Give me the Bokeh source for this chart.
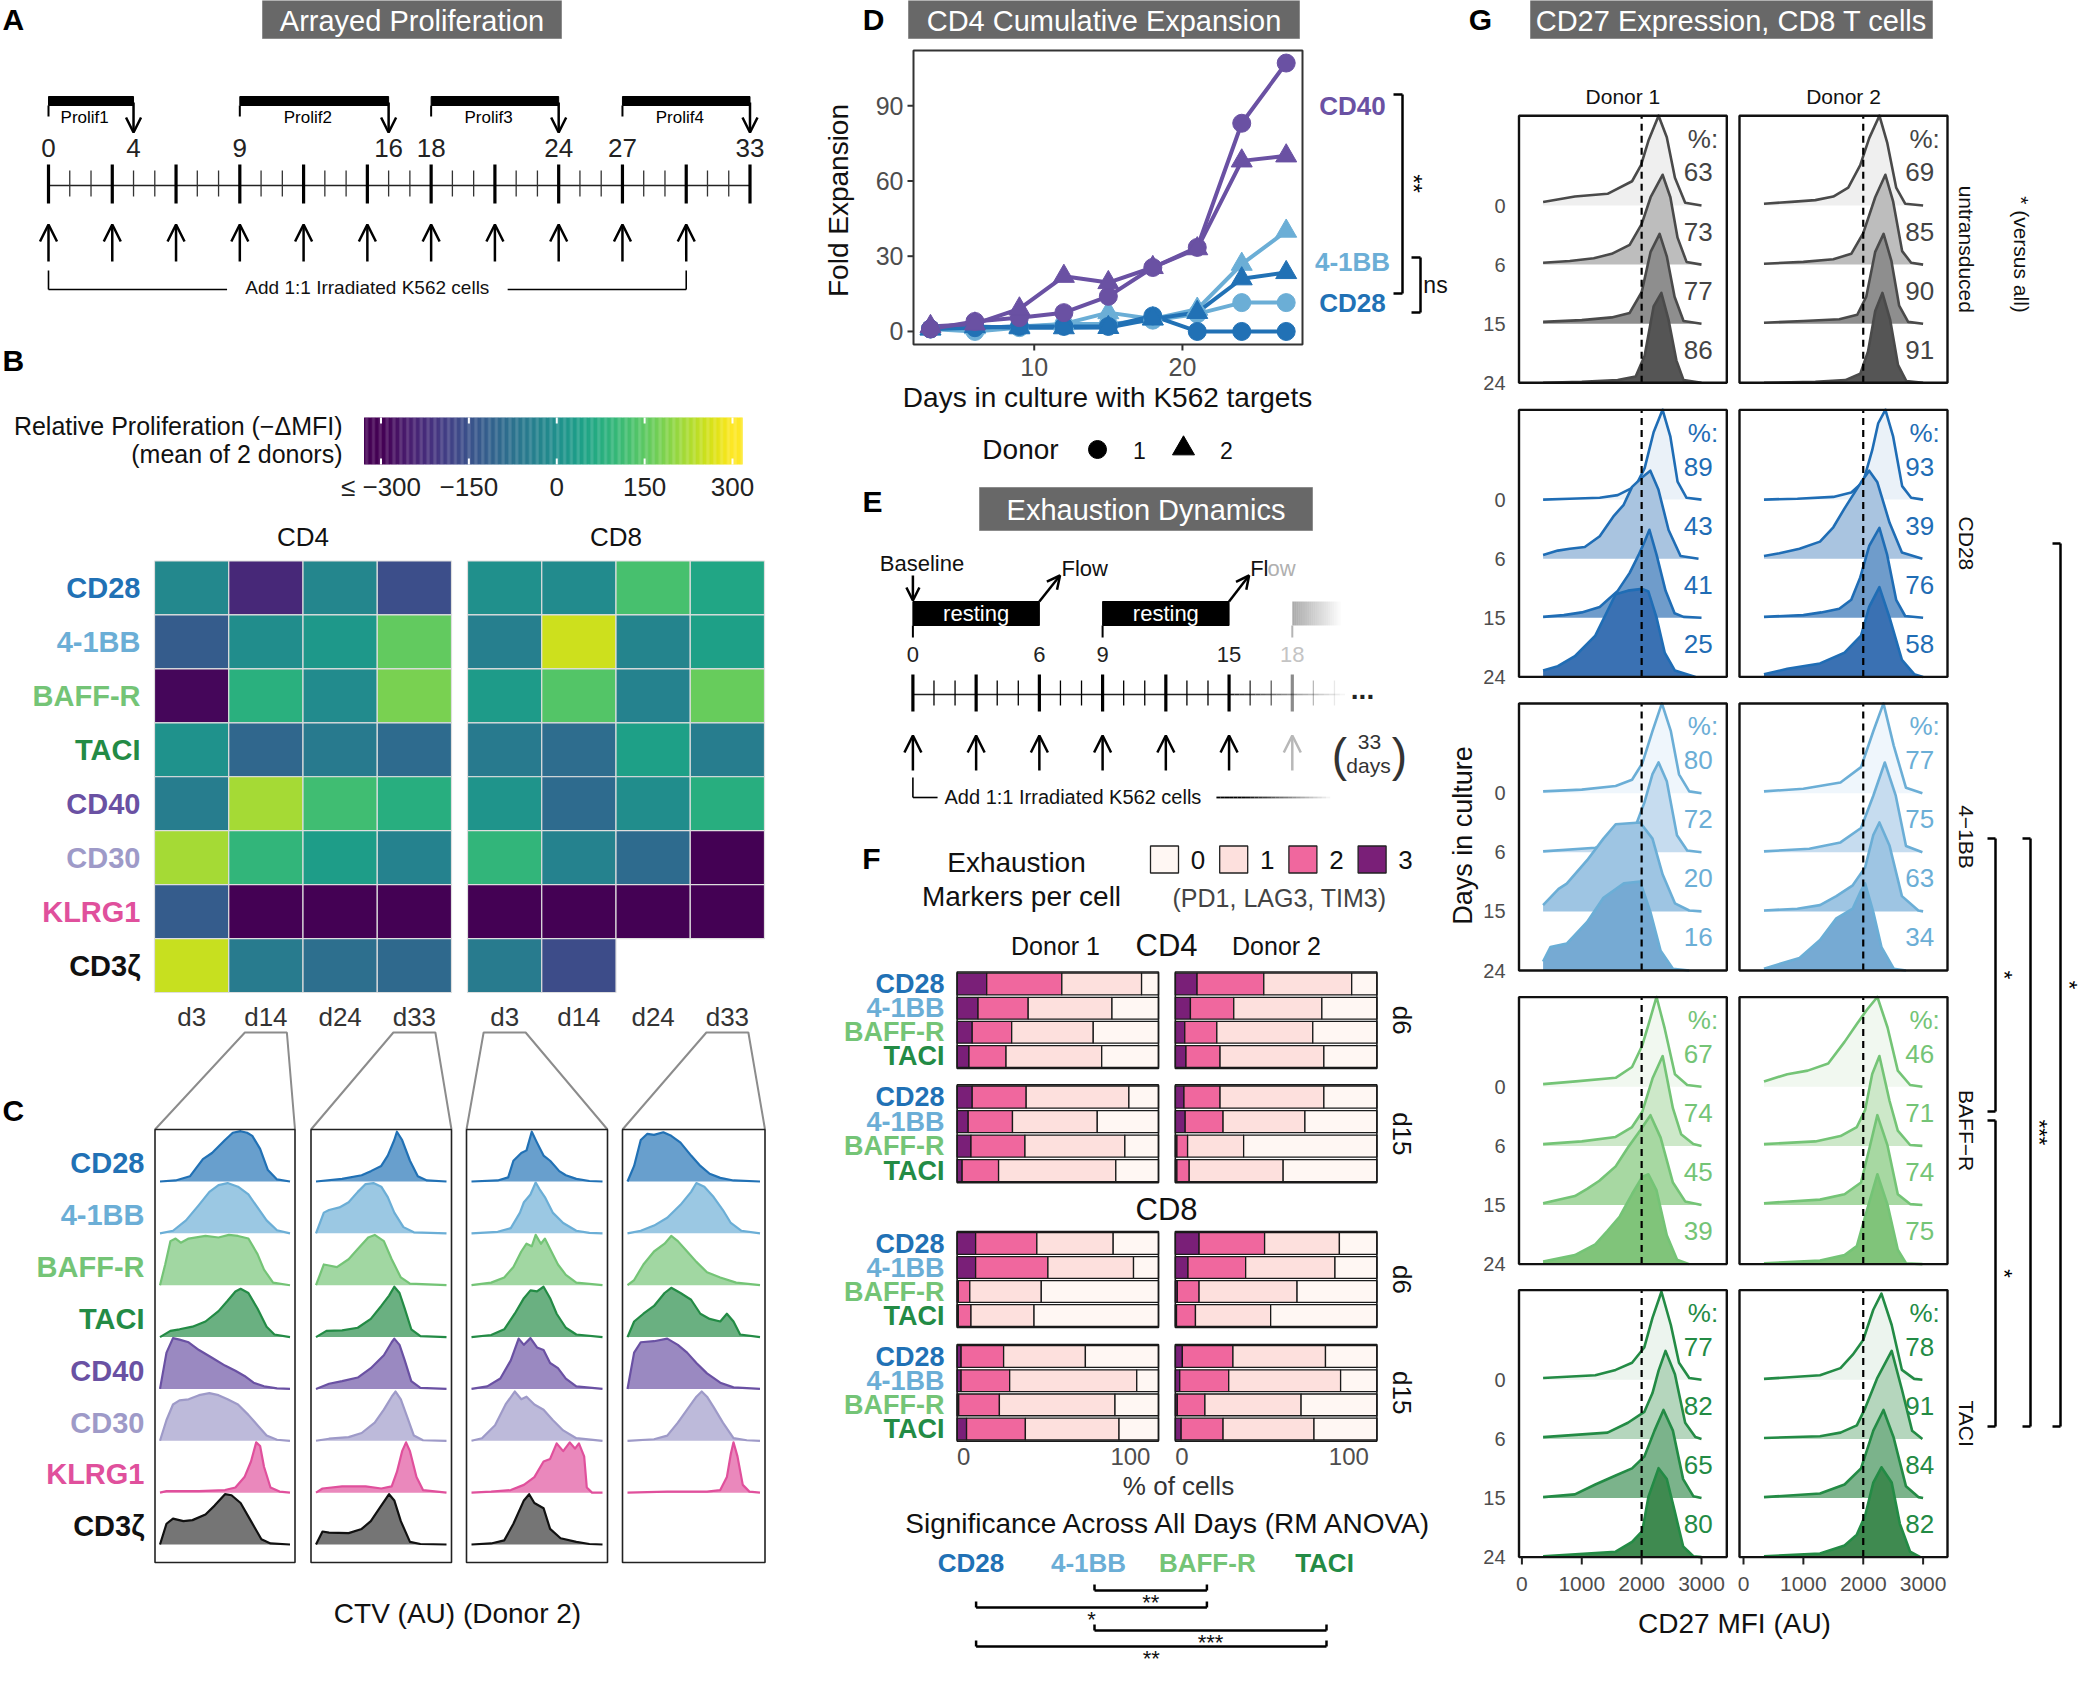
import numpy as np
from bokeh.plotting import figure
from bokeh.models import Range1d, ColumnDataSource, Arrow, OpenHead, LinearColorMapper
from bokeh.core.properties import value, field
from bokeh.embed import file_html
from bokeh.resources import INLINE
from bokeh.palettes import Viridis256

FONT = "Liberation Sans"

# ============================ DATA ============================
MARKERS = ["CD28", "4-1BB", "BAFF-R", "TACI", "CD40", "CD30", "KLRG1", "CD3ζ"]
MARKER_COLORS = ["#2171b5", "#6baed6", "#74c476", "#238b45", "#6a51a3", "#9e9ac8", "#e0509c", "#111111"]
MARKER_FILLS = ["#2171b5", "#6baed6", "#74c476", "#238b45", "#6a51a3", "#9e9ac8", "#e0509c", "#333333"]

# --- A: arrayed proliferation timeline (days)
A_LAST_DAY = 33
A_TICK_LABEL_DAYS = [0, 4, 9, 16, 18, 24, 27, 33]
A_PROLIF_NAMES = ["Prolif1", "Prolif2", "Prolif3", "Prolif4"]
A_PROLIF_START = [0, 9, 18, 27]
A_PROLIF_END = [4, 16, 24, 33]
A_K562_DAYS = [0, 3, 6, 9, 12, 15, 18, 21, 24, 27, 30]

# --- B: heatmap, relative proliferation (-dMFI, mean of 2 donors)
HM_DAYS = ["d3", "d14", "d24", "d33"]
HM_CD4 = [[-20, -230, -25, -155],
          [-125, -5, 20, 155],
          [-290, 80, -10, 180],
          [5, -100, -55, -90],
          [-45, 220, 115, 75],
          [220, 95, 35, -35],
          [-125, -320, -320, -320],
          [250, -50, -80, -95]]
HM_CD8 = [[0, -10, 125, 55],
          [-40, 255, -30, 40],
          [30, 140, -35, 160],
          [-55, -85, 40, -45],
          [10, -90, -5, 75],
          [95, -35, -90, -310],
          [-320, -320, -320, -320],
          [-50, -160, None, None]]
CB_TICKS = [-300, -150, 0, 150, 300]
CB_LABELS = ["≤ −300", "−150", "0", "150", "300"]
CB_RANGE = [-329, 316]

# --- C: CTV densities (x: 0-100 relative CTV, h: relative density)
C_CD4_D14 = {
    "CD28": [(0, 0), (12, 0.02), (23, 0.1), (33, 0.43), (40, 0.55), (50, 0.8), (56, 0.94), (62, 0.97), (67, 0.94), (71, 0.88), (77, 0.63), (83, 0.22), (90, 0.04), (100, 0)],
    "4-1BB": [(0, 0), (10, 0.05), (20, 0.25), (30, 0.55), (38, 0.8), (45, 0.93), (52, 0.97), (60, 0.9), (68, 0.75), (75, 0.5), (82, 0.25), (90, 0.06), (100, 0)],
    "BAFF-R": [(0, 0), (4, 0.4), (8, 0.85), (12, 0.9), (16, 0.82), (22, 0.9), (35, 0.95), (45, 0.92), (53, 0.97), (60, 0.95), (68, 0.9), (75, 0.6), (80, 0.3), (87, 0.05), (100, 0)],
    "TACI": [(0, 0), (8, 0.12), (15, 0.15), (25, 0.2), (35, 0.3), (45, 0.5), (52, 0.7), (58, 0.88), (62, 0.93), (68, 0.85), (75, 0.55), (82, 0.2), (88, 0.05), (100, 0)],
    "CD40": [(0, 0), (5, 0.7), (10, 0.98), (15, 0.95), (22, 0.9), (30, 0.75), (40, 0.6), (50, 0.45), (58, 0.35), (65, 0.25), (72, 0.12), (80, 0.05), (90, 0.01), (100, 0)],
    "CD30": [(0, 0), (5, 0.4), (10, 0.7), (15, 0.78), (22, 0.8), (30, 0.88), (38, 0.92), (45, 0.88), (52, 0.8), (60, 0.7), (68, 0.5), (75, 0.3), (82, 0.1), (90, 0.02), (100, 0)],
    "KLRG1": [(0, 0), (5, 0.03), (30, 0.03), (50, 0.05), (58, 0.1), (65, 0.3), (70, 0.6), (74, 0.97), (77, 0.9), (80, 0.5), (85, 0.1), (92, 0.02), (100, 0)],
    "CD3ζ": [(0, 0), (5, 0.4), (10, 0.5), (18, 0.45), (25, 0.47), (35, 0.58), (42, 0.75), (50, 0.97), (55, 0.95), (62, 0.8), (70, 0.45), (78, 0.1), (85, 0.02), (100, 0)],
}
C_CD4_D33 = {
    "CD28": [(0, 0), (20, 0.05), (35, 0.12), (42, 0.2), (50, 0.3), (55, 0.5), (60, 0.8), (62, 0.96), (66, 0.8), (72, 0.4), (78, 0.1), (85, 0.02), (100, 0)],
    "4-1BB": [(0, 0), (6, 0.4), (10, 0.45), (18, 0.5), (25, 0.6), (32, 0.8), (38, 0.95), (44, 0.97), (50, 0.9), (55, 0.7), (60, 0.4), (67, 0.12), (75, 0.02), (100, 0)],
    "BAFF-R": [(0, 0), (6, 0.4), (10, 0.38), (16, 0.35), (25, 0.5), (32, 0.7), (40, 0.92), (45, 0.97), (52, 0.85), (58, 0.5), (65, 0.15), (72, 0.03), (100, 0)],
    "TACI": [(0, 0), (8, 0.12), (20, 0.13), (32, 0.18), (42, 0.35), (50, 0.6), (56, 0.8), (60, 0.97), (64, 0.85), (68, 0.55), (73, 0.15), (80, 0.02), (100, 0)],
    "CD40": [(0, 0), (10, 0.1), (20, 0.15), (32, 0.22), (42, 0.4), (52, 0.65), (58, 0.9), (60, 0.97), (64, 0.85), (68, 0.55), (73, 0.15), (80, 0.02), (100, 0)],
    "CD30": [(0, 0), (10, 0.04), (25, 0.07), (35, 0.15), (45, 0.35), (52, 0.6), (58, 0.85), (61, 0.95), (65, 0.8), (70, 0.45), (75, 0.1), (82, 0.01), (100, 0)],
    "KLRG1": [(0, 0), (5, 0.08), (20, 0.12), (38, 0.12), (50, 0.08), (58, 0.12), (62, 0.4), (66, 0.8), (69, 0.97), (72, 0.8), (77, 0.3), (82, 0.05), (100, 0)],
    "CD3ζ": [(0, 0), (5, 0.25), (10, 0.23), (25, 0.22), (35, 0.3), (42, 0.45), (50, 0.75), (56, 0.97), (60, 0.85), (65, 0.45), (72, 0.05), (80, 0.01), (100, 0)],
}
C_CD8_D3 = {
    "CD28": [(0, 0), (20, 0.02), (28, 0.08), (32, 0.4), (38, 0.55), (42, 0.6), (46, 0.96), (50, 0.75), (55, 0.5), (60, 0.4), (67, 0.2), (72, 0.12), (80, 0.05), (90, 0.01), (100, 0)],
    "4-1BB": [(0, 0), (20, 0.03), (30, 0.1), (37, 0.4), (40, 0.6), (45, 0.75), (49, 0.98), (52, 0.85), (56, 0.7), (62, 0.4), (70, 0.2), (80, 0.05), (90, 0.01), (100, 0)],
    "BAFF-R": [(0, 0), (15, 0.05), (25, 0.15), (32, 0.35), (38, 0.65), (42, 0.8), (46, 0.75), (49, 0.97), (53, 0.8), (56, 0.9), (60, 0.7), (66, 0.4), (72, 0.2), (80, 0.05), (100, 0)],
    "TACI": [(0, 0), (15, 0.04), (25, 0.15), (33, 0.45), (40, 0.75), (45, 0.9), (50, 0.88), (55, 0.97), (60, 0.75), (65, 0.45), (72, 0.18), (80, 0.05), (100, 0)],
    "CD40": [(0, 0), (12, 0.05), (22, 0.2), (30, 0.55), (36, 0.97), (40, 0.85), (45, 0.98), (50, 0.8), (55, 0.75), (60, 0.5), (66, 0.4), (72, 0.2), (80, 0.05), (100, 0)],
    "CD30": [(0, 0), (8, 0.05), (18, 0.3), (26, 0.7), (33, 0.95), (38, 0.8), (42, 0.85), (48, 0.7), (55, 0.6), (62, 0.4), (70, 0.2), (80, 0.05), (100, 0)],
    "KLRG1": [(0, 0), (15, 0.02), (30, 0.05), (40, 0.15), (48, 0.3), (55, 0.6), (60, 0.65), (65, 0.95), (70, 0.8), (75, 0.97), (79, 0.85), (82, 0.95), (86, 0.7), (88, 0.1), (92, 0), (100, 0)],
    "CD3ζ": [(0, 0), (15, 0.02), (25, 0.08), (32, 0.4), (40, 0.85), (44, 0.97), (48, 0.8), (55, 0.7), (60, 0.3), (68, 0.12), (80, 0.05), (90, 0.01), (100, 0)],
}
C_CD8_D33 = {
    "CD28": [(0, 0), (5, 0.3), (10, 0.8), (15, 0.92), (20, 0.9), (27, 0.95), (33, 0.88), (40, 0.75), (48, 0.5), (55, 0.3), (62, 0.15), (70, 0.07), (80, 0.02), (100, 0)],
    "4-1BB": [(0, 0), (10, 0.05), (20, 0.15), (30, 0.3), (40, 0.55), (48, 0.8), (52, 0.97), (58, 0.9), (65, 0.7), (72, 0.45), (78, 0.2), (86, 0.05), (100, 0)],
    "BAFF-R": [(0, 0), (5, 0.1), (12, 0.4), (20, 0.65), (28, 0.8), (33, 0.95), (38, 0.85), (45, 0.65), (52, 0.45), (60, 0.25), (70, 0.15), (82, 0.05), (100, 0)],
    "TACI": [(0, 0), (5, 0.3), (12, 0.45), (20, 0.6), (28, 0.85), (33, 0.95), (40, 0.85), (48, 0.72), (55, 0.45), (62, 0.35), (70, 0.3), (75, 0.45), (80, 0.3), (85, 0.05), (100, 0)],
    "CD40": [(0, 0), (5, 0.7), (10, 0.9), (20, 0.92), (30, 0.97), (38, 0.85), (45, 0.7), (52, 0.5), (60, 0.3), (70, 0.12), (80, 0.03), (100, 0)],
    "CD30": [(0, 0), (20, 0.03), (30, 0.1), (38, 0.35), (45, 0.6), (52, 0.85), (56, 0.95), (60, 0.85), (65, 0.65), (72, 0.35), (80, 0.05), (90, 0.01), (100, 0)],
    "KLRG1": [(0, 0), (30, 0.02), (60, 0.02), (70, 0.05), (75, 0.3), (78, 0.75), (80, 0.97), (83, 0.7), (87, 0.15), (92, 0.02), (100, 0)],
}
C_PANELS = [("CD4", 1, C_CD4_D14), ("CD4", 3, C_CD4_D33), ("CD8", 0, C_CD8_D3), ("CD8", 3, C_CD8_D33)]

# --- D: CD4 cumulative expansion (fold)
D_DAYS = [3, 6, 9, 12, 15, 18, 21, 24, 27]
D_CD40_DONOR1 = [1, 4, 5.5, 7.5, 14, 25.5, 33.5, 83, 107]
D_CD40_DONOR2 = [2, 3, 9, 22, 19.5, 25.5, 33, 68, 70]
D_41BB_DONOR1 = [1, 0, 1.5, 3, 3, 4.5, 7, 11.5, 11.5]
D_41BB_DONOR2 = [1, 1.5, 2, 3, 7.5, 5, 8.9, 26.8, 40]
D_CD28_DONOR1 = [1, 1.5, 2, 2, 2, 6.2, 0, 0, 0]
D_CD28_DONOR2 = [1, 2, 1.5, 1.5, 1.6, 5, 7.6, 21, 23.5]
D_XTICKS = [10, 20]
D_YTICKS = [0, 30, 60, 90]

# --- E: exhaustion dynamics timeline
E_LABEL_DAYS = [0, 6, 9, 15, 18]
E_REST_START = [0, 9]
E_REST_END = [6, 15]
E_K562_DAYS = [0, 3, 6, 9, 12, 15, 18]

# --- F: exhaustion markers per cell, % cells with [3, 2, 1, 0] markers
F_ROWS = ["CD28", "4-1BB", "BAFF-R", "TACI"]
F_ROW_COLORS = ["#2171b5", "#6baed6", "#74c476", "#238b45"]
F_LEVELS = ["0", "1", "2", "3"]
F_LEVEL_COLORS = ["#fff7f3", "#fde0dd", "#f0679e", "#7a1f78"]
F_CD4_D6_DONOR1 = [[14.7, 37.3, 39.6, 8.4], [10.4, 24.9, 41.6, 23.1], [7.5, 19.6, 40.5, 32.4], [5.9, 18.4, 47.5, 28.2]]
F_CD4_D6_DONOR2 = [[10.8, 33.1, 43.6, 12.5], [7.5, 21.5, 43.7, 27.3], [4.7, 15.9, 47.6, 31.8], [5.3, 16.9, 51.5, 26.3]]
F_CD4_D15_DONOR1 = [[7.5, 26.8, 51.0, 14.7], [5.5, 22.0, 42.1, 30.4], [6.9, 26.8, 49.6, 16.7], [2.5, 18.1, 58.2, 21.2]]
F_CD4_D15_DONOR2 = [[4.3, 17.9, 51.5, 26.3], [4.9, 18.8, 40.6, 35.7], [0.8, 5.3, 27.8, 66.1], [0.8, 6.1, 46.6, 46.5]]
F_CD8_D6_DONOR1 = [[9.2, 30.4, 37.9, 22.5], [9.2, 35.9, 42.5, 12.4], [0.6, 5.7, 35.5, 58.2], [0.6, 6.3, 31.3, 61.8]]
F_CD8_D6_DONOR2 = [[11.8, 32.5, 37.1, 18.6], [6.3, 28.6, 44.3, 20.8], [1.0, 10.8, 48.6, 39.6], [0.6, 9.4, 37.3, 52.7]]
F_CD8_D15_DONOR1 = [[2.0, 21.1, 40.6, 36.3], [2.0, 24.1, 63.1, 10.8], [0.8, 20.2, 57.4, 21.6], [4.7, 29.2, 46.5, 19.6]]
F_CD8_D15_DONOR2 = [[3.5, 25.1, 45.9, 25.5], [2.2, 24.3, 55.5, 18.0], [1.0, 13.7, 47.7, 37.6], [2.9, 20.8, 45.1, 31.2]]
F_PANELS = [("d6", F_CD4_D6_DONOR1, F_CD4_D6_DONOR2), ("d15", F_CD4_D15_DONOR1, F_CD4_D15_DONOR2),
            ("d6", F_CD8_D6_DONOR1, F_CD8_D6_DONOR2), ("d15", F_CD8_D15_DONOR1, F_CD8_D15_DONOR2)]
F_SIG = [(1, 2, "**"), (0, 2, "*"), (1, 3, "***"), (0, 3, "**")]

# --- G: CD27 expression ridges (x: MFI AU, h: relative density)
G_GROUPS = ["untransduced", "CD28", "4-1BB", "BAFF-R", "TACI"]
G_DAYS = ["0", "6", "15", "24"]
G_XTICKS = [0, 1000, 2000, 3000]
G_THRESHOLD = 2000
G_PCT_DONOR1 = [[63, 73, 77, 86], [89, 43, 41, 25], [80, 72, 20, 16], [67, 74, 45, 39], [77, 82, 65, 80]]
G_PCT_DONOR2 = [[69, 85, 90, 91], [93, 39, 76, 58], [77, 75, 63, 34], [46, 71, 74, 75], [78, 91, 84, 82]]
G_CURVES_DONOR1 = {
    "untransduced": [
        [(354, 0.04), (885, 0.1), (1430, 0.13), (1840, 0.27), (1990, 0.45), (2113, 0.72), (2283, 1.0), (2420, 0.76), (2556, 0.31), (2727, 0.03), (3000, 0)],
        [(354, 0.02), (800, 0.04), (1200, 0.07), (1500, 0.12), (1800, 0.22), (2000, 0.45), (2150, 0.75), (2350, 1.0), (2480, 0.75), (2600, 0.3), (2750, 0.03), (3000, 0)],
        [(354, 0.02), (1000, 0.04), (1500, 0.07), (1800, 0.12), (2000, 0.35), (2150, 0.8), (2300, 1.0), (2420, 0.75), (2550, 0.3), (2700, 0.03), (3000, 0)],
        [(354, 0.0), (1000, 0.01), (1600, 0.03), (1900, 0.07), (2050, 0.3), (2200, 0.85), (2330, 1.0), (2450, 0.7), (2580, 0.25), (2700, 0.03), (3000, 0)]],
    "CD28": [
        [(354, 0.0), (800, 0.01), (1300, 0.02), (1600, 0.05), (1900, 0.15), (2050, 0.35), (2200, 0.75), (2350, 1.0), (2480, 0.7), (2600, 0.2), (2750, 0.02), (3000, 0)],
        [(354, 0.04), (600, 0.09), (800, 0.11), (1050, 0.13), (1300, 0.25), (1540, 0.48), (1700, 0.6), (1840, 0.8), (2000, 0.9), (2145, 0.98), (2280, 0.77), (2450, 0.32), (2650, 0.03), (2950, 0)],
        [(354, 0.01), (700, 0.03), (1000, 0.06), (1300, 0.12), (1600, 0.3), (1800, 0.5), (1950, 0.7), (2050, 0.85), (2130, 0.98), (2250, 0.7), (2400, 0.3), (2550, 0.05), (2700, 0.01), (3000, 0)],
        [(354, 0.07), (600, 0.12), (885, 0.23), (1226, 0.46), (1566, 0.92), (1771, 0.96), (2010, 0.98), (2113, 0.95), (2249, 0.66), (2385, 0.27), (2556, 0.07), (2900, 0)]],
    "4-1BB": [
        [(354, 0.02), (1000, 0.04), (1566, 0.08), (1840, 0.15), (2010, 0.33), (2181, 0.69), (2338, 1.0), (2488, 0.69), (2624, 0.21), (2795, 0.02), (3000, 0)],
        [(354, 0.01), (1226, 0.05), (1703, 0.15), (1908, 0.31), (2044, 0.55), (2181, 0.87), (2283, 1.0), (2420, 0.79), (2590, 0.19), (2761, 0.02), (3000, 0)],
        [(354, 0.07), (613, 0.25), (749, 0.31), (1090, 0.57), (1362, 0.81), (1566, 0.97), (1975, 0.99), (2181, 0.81), (2351, 0.41), (2556, 0.09), (2795, 0.01), (3000, 0)],
        [(354, 0.1), (477, 0.26), (749, 0.3), (1090, 0.54), (1362, 0.81), (1703, 0.97), (1975, 0.99), (2147, 0.65), (2317, 0.22), (2522, 0.02), (2795, 0)]],
    "BAFF-R": [
        [(354, 0.03), (900, 0.06), (1566, 0.1), (1840, 0.22), (2010, 0.46), (2113, 0.69), (2249, 1.0), (2385, 0.65), (2556, 0.14), (2761, 0.02), (3000, 0)],
        [(354, 0.02), (1000, 0.05), (1566, 0.1), (1840, 0.21), (2010, 0.38), (2181, 0.75), (2351, 1.0), (2522, 0.42), (2659, 0.13), (2863, 0.02), (3000, 0)],
        [(354, 0.02), (885, 0.1), (1090, 0.18), (1294, 0.27), (1566, 0.43), (1771, 0.64), (1975, 0.83), (2147, 1.0), (2317, 0.75), (2522, 0.25), (2727, 0.04), (3000, 0)],
        [(354, 0.03), (885, 0.1), (1226, 0.22), (1430, 0.37), (1635, 0.53), (1840, 0.78), (2010, 0.97), (2113, 1.0), (2249, 0.82), (2420, 0.32), (2590, 0.05), (2795, 0)]],
    "TACI": [
        [(354, 0.02), (1226, 0.05), (1566, 0.11), (1840, 0.19), (2044, 0.36), (2181, 0.69), (2331, 0.98), (2488, 0.61), (2624, 0.19), (2795, 0.02), (3000, 0)],
        [(354, 0.02), (1430, 0.07), (1771, 0.18), (2044, 0.3), (2181, 0.51), (2283, 0.76), (2399, 0.98), (2556, 0.72), (2727, 0.18), (2897, 0.02), (3000, 0)],
        [(354, 0.01), (885, 0.04), (1226, 0.15), (1566, 0.25), (1840, 0.33), (2044, 0.46), (2215, 0.75), (2365, 0.98), (2522, 0.75), (2693, 0.21), (2863, 0.02), (3000, 0)],
        [(354, 0.01), (1566, 0.06), (1840, 0.17), (2010, 0.29), (2113, 0.67), (2283, 0.99), (2420, 0.87), (2556, 0.5), (2693, 0.12), (2863, 0.01), (3000, 0)]],
}
G_CURVES_DONOR2 = {
    "untransduced": [
        [(342, 0.02), (800, 0.04), (1200, 0.06), (1500, 0.1), (1750, 0.2), (1950, 0.45), (2100, 0.75), (2270, 1.0), (2400, 0.7), (2550, 0.2), (2700, 0.02), (3000, 0)],
        [(342, 0.01), (1000, 0.03), (1500, 0.06), (1800, 0.12), (2000, 0.35), (2200, 0.75), (2370, 1.0), (2500, 0.7), (2650, 0.15), (2800, 0.02), (3000, 0)],
        [(342, 0.01), (1000, 0.03), (1600, 0.05), (1900, 0.1), (2050, 0.3), (2200, 0.8), (2340, 1.0), (2470, 0.7), (2600, 0.2), (2750, 0.02), (3000, 0)],
        [(342, 0.0), (1200, 0.01), (1700, 0.03), (1950, 0.1), (2080, 0.35), (2200, 0.8), (2320, 1.0), (2450, 0.7), (2580, 0.2), (2720, 0.02), (3000, 0)]],
    "CD28": [
        [(342, 0.0), (900, 0.01), (1500, 0.03), (1800, 0.08), (2000, 0.2), (2150, 0.55), (2250, 0.85), (2370, 1.0), (2500, 0.7), (2650, 0.15), (2800, 0.02), (3000, 0)],
        [(342, 0.03), (600, 0.06), (936, 0.11), (1278, 0.19), (1500, 0.35), (1688, 0.56), (1963, 0.85), (2099, 0.98), (2236, 0.85), (2440, 0.4), (2646, 0.07), (2988, 0)],
        [(342, 0.01), (1000, 0.03), (1300, 0.06), (1600, 0.1), (1800, 0.2), (1950, 0.45), (2100, 0.8), (2270, 1.0), (2400, 0.7), (2550, 0.2), (2700, 0.02), (3000, 0)],
        [(342, 0.03), (732, 0.09), (1278, 0.15), (1688, 0.27), (1963, 0.46), (2099, 0.78), (2270, 1.0), (2440, 0.66), (2646, 0.19), (2851, 0.03), (3000, 0)]],
    "4-1BB": [
        [(342, 0.02), (1000, 0.05), (1620, 0.12), (1963, 0.29), (2168, 0.69), (2338, 1.0), (2509, 0.53), (2714, 0.06), (2988, 0)],
        [(342, 0.01), (1100, 0.04), (1620, 0.11), (1963, 0.27), (2168, 0.63), (2360, 1.0), (2543, 0.63), (2714, 0.07), (2988, 0)],
        [(342, 0.01), (900, 0.03), (1278, 0.07), (1551, 0.17), (1825, 0.29), (2031, 0.49), (2168, 0.85), (2270, 0.99), (2440, 0.73), (2646, 0.17), (2920, 0.01), (3000, 0)],
        [(342, 0.02), (936, 0.14), (1278, 0.34), (1551, 0.58), (1825, 0.69), (1963, 0.89), (2031, 0.97), (2168, 0.65), (2304, 0.26), (2509, 0.02), (2714, 0)]],
    "BAFF-R": [
        [(342, 0.06), (732, 0.14), (1073, 0.18), (1415, 0.26), (1688, 0.5), (1893, 0.7), (2065, 0.86), (2236, 1.0), (2406, 0.66), (2577, 0.18), (2783, 0.02), (2988, 0)],
        [(342, 0.02), (1200, 0.05), (1620, 0.11), (1893, 0.21), (2031, 0.4), (2150, 0.8), (2270, 1.0), (2440, 0.5), (2577, 0.17), (2783, 0.01), (2988, 0)],
        [(342, 0.02), (1278, 0.06), (1688, 0.12), (1963, 0.25), (2099, 0.62), (2236, 1.0), (2406, 0.66), (2577, 0.12), (2783, 0.01), (2988, 0)],
        [(342, 0.01), (1278, 0.04), (1688, 0.1), (1893, 0.2), (2031, 0.53), (2236, 1.0), (2406, 0.66), (2577, 0.16), (2714, 0.01), (2988, 0)]],
    "TACI": [
        [(342, 0.01), (1278, 0.05), (1620, 0.13), (1825, 0.28), (1997, 0.44), (2168, 0.78), (2304, 0.96), (2475, 0.61), (2646, 0.11), (2851, 0.01), (2988, 0)],
        [(342, 0.01), (1278, 0.03), (1620, 0.07), (1893, 0.15), (2031, 0.34), (2236, 0.68), (2475, 0.98), (2646, 0.55), (2817, 0.09), (2988, 0)],
        [(342, 0.01), (1278, 0.05), (1688, 0.15), (1963, 0.33), (2168, 0.75), (2338, 0.98), (2509, 0.67), (2714, 0.13), (2920, 0.01), (3000, 0)],
        [(342, 0.01), (1278, 0.04), (1688, 0.13), (1893, 0.25), (2031, 0.46), (2168, 0.83), (2304, 1.0), (2475, 0.83), (2612, 0.37), (2783, 0.06), (2954, 0)]],
}
G_FILLS = {
    "untransduced": ["#efefef", "#bdbdbd", "#8e8e8e", "#555555"],
    "CD28": ["#eaf1f8", "#a9c4e0", "#6f9ccb", "#3a71b3"],
    "4-1BB": ["#eff6fc", "#c6dcef", "#9ec5e3", "#76aad3"],
    "BAFF-R": ["#f1f8f0", "#cde8c9", "#a7d8a2", "#80c47a"],
    "TACI": ["#ecf4ee", "#b5d6bd", "#7bb38b", "#3f8a50"],
}
G_LINES = {"untransduced": "#4a4a4a", "CD28": "#1f6db5", "4-1BB": "#6baed6", "BAFF-R": "#74c476", "TACI": "#238b45"}
G_STRIPS = ["untransduced", "CD28", "4−1BB", "BAFF−R", "TACI"]
G_SIG = [(1, 4, "*", 2068), (2, 4, "***", 2038), (2, 3, "*", 2003), (3, 4, "*", 2003)]

# ============================ CANVAS ============================
OX, OY, W, H = 8, 8, 2084, 1672
p = figure(width=W, height=H, x_range=Range1d(OX, OX + W), y_range=Range1d(OY + H, OY),
           output_backend="svg", toolbar_location=None, min_border=0,
           x_axis_type=None, y_axis_type=None)
p.outline_line_color = None
p.background_fill_color = "white"
p.border_fill_color = "white"

_cnt = [0]


def scale_x(px0, px1, d0, d1):
    _cnt[0] += 1
    k = (d1 - d0) / (px1 - px0)
    name = "sx%d" % _cnt[0]
    p.extra_x_ranges[name] = Range1d(d0 + (OX - px0) * k, d0 + (OX + W - px0) * k)
    return name


def scale_y(py0, py1, d0, d1):
    _cnt[0] += 1
    k = (d1 - d0) / (py1 - py0)
    name = "sy%d" % _cnt[0]
    p.extra_y_ranges[name] = Range1d(d0 + (OY + H - py0) * k, d0 + (OY - py0) * k)
    return name


def _n(*vals):
    return max(len(v) if isinstance(v, (list, tuple, np.ndarray)) else 1 for v in vals)


def _lst(v, n):
    if isinstance(v, np.ndarray):
        return [float(a) for a in v]
    if isinstance(v, (list, tuple)):
        return list(v)
    return [v] * n


def txt(x, y, s, size=24, color="#000000", align="center", base="middle", bold=False, angle=0.0,
        xr="default", yr="default"):
    n = _n(x, y, s, color)
    src = dict(x=_lst(x, n), y=_lst(y, n), t=_lst(s, n))
    if isinstance(color, (list, tuple)):
        src["c"] = list(color)
        col = field("c")
    else:
        col = value(color)
    p.text(x="x", y="y", text="t", source=ColumnDataSource(src), angle=angle,
           text_font=value(FONT), text_font_size=value("%dpx" % size), text_color=col,
           text_align=align, text_baseline=base, text_font_style="bold" if bold else "normal",
           x_range_name=xr, y_range_name=yr)


def seg(x0, y0, x1, y1, xr="default", yr="default", color="#000000", width=2.0, alpha=1.0, dash="solid"):
    n = _n(x0, y0, x1, y1, alpha)
    src = dict(x0=_lst(x0, n), y0=_lst(y0, n), x1=_lst(x1, n), y1=_lst(y1, n))
    kw = {}
    if isinstance(alpha, (list, tuple, np.ndarray)):
        src["a"] = _lst(alpha, n)
        kw["line_alpha"] = field("a")
    else:
        kw["line_alpha"] = alpha
    if isinstance(color, (list, tuple)):
        src["c"] = list(color)
        kw["line_color"] = field("c")
    else:
        kw["line_color"] = color
    p.segment(x0="x0", y0="y0", x1="x1", y1="y1", source=ColumnDataSource(src), line_width=width,
              line_dash=dash, x_range_name=xr, y_range_name=yr, **kw)


def arrows(x0, y0, x1, y1, xr="default", yr="default", color="#000000", width=2.5, size=15):
    n = _n(x0, y0, x1, y1)
    src = ColumnDataSource(dict(xs=_lst(x0, n), ys=_lst(y0, n), xe=_lst(x1, n), ye=_lst(y1, n)))
    head = OpenHead(size=size, line_width=width, line_color=color)
    p.add_layout(Arrow(end=head, source=src, x_start="xs", y_start="ys", x_end="xe", y_end="ye",
                       line_color=color, line_width=width, x_range_name=xr, y_range_name=yr))


def box(x0, x1, y0, y1, color="#000000", width=2.0, fill=None):
    p.quad(left=[x0], right=[x1], top=[y0], bottom=[y1], fill_color=fill, line_color=color, line_width=width)


def title_box(x0, x1, y0, y1, s):
    p.quad(left=[x0], right=[x1], top=[y0], bottom=[y1], fill_color="#686868", line_color="#8c8c8c", line_width=1)
    txt((x0 + x1) / 2, (y0 + y1) / 2 + 1, s, size=29, color="#ffffff")


def ridge(xr, yr, pts, base, scale, fill, line, lw=2.2, falpha=1.0):
    xs = [q[0] for q in pts]
    ys = [base + q[1] * scale for q in pts]
    p.patch(xs + [xs[-1], xs[0]], ys + [base, base], fill_color=fill, fill_alpha=falpha, line_color=None,
            x_range_name=xr, y_range_name=yr)
    p.line(xs, ys, line_color=line, line_width=lw, line_join="round", x_range_name=xr, y_range_name=yr)


# panel letters
for s, x, y in (("A", 10, 27), ("B", 10, 368), ("C", 10, 1118)):
    txt(x, y, s, size=30, bold=True, align="left")
for s, x, y in (("D", 881, 27), ("E", 880, 509), ("F", 879, 866), ("G", 1488, 27)):
    txt(x, y, s, size=30, bold=True)

# ============================ A ============================
title_box(270, 569, 8, 46, "Arrayed Proliferation")
ax = scale_x(56, 757.5, 0, A_LAST_DAY)
days = list(range(0, A_LAST_DAY + 1))
maj = [d for d in days if d % 3 == 0]
mnr = [d for d in days if d % 3 != 0]
seg(0, 193, A_LAST_DAY, 193, xr=ax, width=1.6, color="#222222")
seg(maj, 172, maj, 211, xr=ax, width=3.2)
seg(mnr, 178, mnr, 204, xr=ax, width=1.3, color="#333333")
txt(A_TICK_LABEL_DAYS, 155, [str(d) for d in A_TICK_LABEL_DAYS], size=26, color="#222222", xr=ax)
p.quad(left=A_PROLIF_START, right=A_PROLIF_END, top=104, bottom=113, fill_color="#000000",
       line_color="#000000", x_range_name=ax)
seg(A_PROLIF_START, 113, A_PROLIF_START, 124, xr=ax, width=2)
arrows(A_PROLIF_END, 110, A_PROLIF_END, 140, xr=ax, width=2.5, size=15)
txt([(s + e) / 2 - 0.3 for s, e in zip(A_PROLIF_START, A_PROLIF_END)], 125, A_PROLIF_NAMES, size=17, xr=ax)
arrows(A_K562_DAYS, 269, A_K562_DAYS, 232, xr=ax, width=2.5, size=17)
seg([0, A_K562_DAYS[-1]], 278, [0, A_K562_DAYS[-1]], 297, xr=ax, width=1.6)
seg([0, 21.6], 297, [8.4, A_K562_DAYS[-1]], 297, xr=ax, width=1.6)
txt(15, 295, "Add 1:1 Irradiated K562 cells", size=19, color="#111111", xr=ax)

# ============================ B ============================
mapper = LinearColorMapper(palette=Viridis256, low=-300, high=300)
txt(350, 433, "Relative Proliferation (−ΔMFI)", size=25, align="right", color="#111111")
txt(350, 461, "(mean of 2 donors)", size=25, align="right", color="#111111")
cbx = scale_x(388.5, 740, -300, 300)
cb_vals = np.arange(CB_RANGE[0], CB_RANGE[1], 2.0)
p.quad(left="l", right="r", top=425, bottom=472,
       source=ColumnDataSource(dict(l=cb_vals, r=cb_vals + 2.4, v=cb_vals + 1.0)),
       fill_color={"field": "v", "transform": mapper}, line_color=None, x_range_name=cbx)
seg(CB_TICKS, 425, CB_TICKS, 431, xr=cbx, color="#ffffff", width=2)
seg(CB_TICKS, 466, CB_TICKS, 472, xr=cbx, color="#ffffff", width=2)
txt(CB_TICKS, 494, CB_LABELS, size=26, color="#222222", xr=cbx)

HM_X = {"CD4": (162, 459), "CD8": (475, 772)}
hy = scale_y(568.5, 1000, -0.5, 7.5)
for name, vals in (("CD4", HM_CD4), ("CD8", HM_CD8)):
    x0, x1 = HM_X[name]
    hx = scale_x(x0, x1, -0.5, 3.5)
    xs, ys, vs = [], [], []
    for r, row in enumerate(vals):
        for c, v in enumerate(row):
            if v is None:
                continue
            xs.append(c)
            ys.append(r)
            vs.append(v)
    p.rect(x="x", y="y", width=1, height=1, source=ColumnDataSource(dict(x=xs, y=ys, v=vs)),
           fill_color={"field": "v", "transform": mapper}, line_color="#dedede", line_width=1.2,
           x_range_name=hx, y_range_name=hy)
    txt(1.5, 544, name, size=26, color="#111111", xr=hx)
    txt(list(range(4)), 1024, HM_DAYS, size=26, color="#333333", xr=hx)
txt(148, list(range(8)), MARKERS, size=29, bold=True, color=MARKER_COLORS, align="right", yr=hy)

# ============================ C ============================
C_BOXES = [(162.5, 302.5), (318.5, 459), (474, 615), (630, 772.5)]
cy = scale_y(1189, 1552, 7, 0)
for (cell, col, curves), (bx0, bx1) in zip(C_PANELS, C_BOXES):
    x0, x1 = HM_X[cell]
    cw = (x1 - x0) / 4.0
    cc = x0 + (col + 0.5) * cw
    p.line([bx0, cc - 21, cc + 21, bx1], [1137, 1040, 1040, 1137], line_color="#8c8c8c", line_width=2)
    cx = scale_x(bx0 + 5, bx1 - 5, 0, 100)
    for r, m in enumerate(MARKERS):
        if m not in curves:
            continue
        ridge(cx, cy, curves[m], 7 - r, 1.0, MARKER_FILLS[r], MARKER_COLORS[r], lw=2.2, falpha=0.68)
    box(bx0, bx1, 1137, 1570, color="#222222", width=1.6)
txt(152, [7 - r + 0.35 for r in range(8)], MARKERS, size=29, bold=True, color=MARKER_COLORS, align="right", yr=cy)
txt(465, 1621, "CTV (AU) (Donor 2)", size=28, color="#111111")

# ============================ D ============================
title_box(916, 1307, 8, 46, "CD4 Cumulative Expansion")
dx = scale_x(921, 1310, 1.855, 28.1)
dy = scale_y(352, 58, -5.2, 112)
box(921, 1310, 58, 352, color="#333333", width=2)
seg(D_XTICKS, 352, D_XTICKS, 358, xr=dx, color="#333333", width=2)
seg(915, D_YTICKS, 921, D_YTICKS, yr=dy, color="#333333", width=2)
txt(D_XTICKS, 374, [str(v) for v in D_XTICKS], size=25, color="#4d4d4d", xr=dx)
txt(911, D_YTICKS, [str(v) for v in D_YTICKS], size=25, color="#4d4d4d", align="right", yr=dy)
for series, color in ((D_41BB_DONOR1, "#6baed6"), (D_41BB_DONOR2, "#6baed6"),
                      (D_CD28_DONOR1, "#2171b5"), (D_CD28_DONOR2, "#2171b5"),
                      (D_CD40_DONOR1, "#6a51a3"), (D_CD40_DONOR2, "#6a51a3")):
    p.line(D_DAYS, series, line_color=color, line_width=4, x_range_name=dx, y_range_name=dy)
for series, color, mk, sz in ((D_41BB_DONOR1, "#6baed6", "circle", 18), (D_41BB_DONOR2, "#6baed6", "triangle", 21),
                              (D_CD28_DONOR1, "#2171b5", "circle", 18), (D_CD28_DONOR2, "#2171b5", "triangle", 21),
                              (D_CD40_DONOR1, "#6a51a3", "circle", 18), (D_CD40_DONOR2, "#6a51a3", "triangle", 21)):
    p.scatter(D_DAYS, series, marker=mk, size=sz, fill_color=color, line_color=color,
              x_range_name=dx, y_range_name=dy)
txt(846, 208, "Fold Expansion", size=28, angle=np.pi / 2, color="#111111")
txt(1115, 405, "Days in culture with K562 targets", size=28, color="#111111")
txt(1360, [113, 269, 310], ["CD40", "4-1BB", "CD28"], size=26, bold=True, color=["#6a51a3", "#6baed6", "#2171b5"])
seg([1410, 1401, 1401], [102, 102, 301], [1410, 1410, 1410], [301, 102, 301], width=2.5)
seg([1428, 1419, 1419], [265, 265, 320], [1428, 1428, 1428], [320, 265, 320], width=2.5)
txt(1421, 191, "**", size=24, angle=-np.pi / 2)
txt(1443, 292, "ns", size=23, color="#111111")
txt(1028, 457, "Donor", size=28, color="#111111")
p.scatter([1105], [457], marker="circle", size=18, fill_color="#000000", line_color="#000000")
txt(1147, 458, "1", size=23, color="#111111")
p.scatter([1191], [456], marker="triangle", size=22, fill_color="#000000", line_color="#000000")
txt(1234, 458, "2", size=23, color="#111111")

# ============================ E ============================
title_box(987, 1320, 495, 538, "Exhaustion Dynamics")
ex = scale_x(920.4, 1299.8, 0, 18)
seg(0, 702, 15, 702, xr=ex, width=1.6, color="#222222")
fade_x = np.arange(15, 20.5, 0.25)
seg(fade_x, 702, fade_x + 0.25, 702, xr=ex, width=1.6, color="#222222",
    alpha=np.clip(1 - (fade_x - 15) / 5.5, 0, 1))
e_days = list(range(0, 21))
e_alpha = [1.0 if d <= 15 else max(0.0, 1 - (d - 15) / 5.5) for d in e_days]
e_maj = [d for d in e_days if d % 3 == 0]
e_mnr = [d for d in e_days if d % 3 != 0]
seg(e_maj, 682, e_maj, 719, xr=ex, width=3.2, alpha=[e_alpha[d] for d in e_maj])
seg(e_mnr, 688, e_mnr, 713, xr=ex, width=1.3, alpha=[e_alpha[d] for d in e_mnr])
txt(E_LABEL_DAYS, 662, [str(d) for d in E_LABEL_DAYS], size=22, xr=ex,
    color=["#222222", "#222222", "#222222", "#222222", "#c4c4c4"])
p.quad(left=E_REST_START, right=E_REST_END, top=609, bottom=633, fill_color="#000000",
       line_color="#000000", x_range_name=ex)
txt([(s + e) / 2 for s, e in zip(E_REST_START, E_REST_END)], 621, "resting", size=22, color="#ffffff", xr=ex)
gx0 = np.arange(18, 20.3, 0.1)
p.quad(left=gx0, right=gx0 + 0.1, top=609, bottom=633, fill_color="#000000",
       fill_alpha=np.clip(0.33 * (1 - (gx0 - 18) / 2.3), 0, 1), line_color=None, x_range_name=ex)
seg(E_REST_START, 633, E_REST_START, 645, xr=ex, width=2)
seg(18, 633, 18, 645, xr=ex, width=2, color="#b5b5b5")
arrows(0, 583, 0, 608, xr=ex, width=2.5, size=13)
txt(0.43, 571, "Baseline", size=22, color="#111111", xr=ex)
arrows([6, 15], 609, [6.98, 15.95], 583, xr=ex, width=2.5, size=13)
txt(7.05, 576, "Flow", size=22, align="left", color="#111111", xr=ex)
txt(16.0, 576, "Fl", size=22, align="left", color="#111111", xr=ex)
txt(16.82, 576, "ow", size=22, align="left", color="#b0b0b0", xr=ex)
arrows(E_K562_DAYS[:-1], 778, E_K562_DAYS[:-1], 743, xr=ex, width=2.5, size=17)
arrows(E_K562_DAYS[-1], 778, E_K562_DAYS[-1], 743, xr=ex, width=2.5, size=17, color="#b8b8b8")
txt(1370, 697, "...", size=28, bold=True, color="#222222")
txt(1347, 762, "(", size=46, color="#333333")
txt(1407, 762, ")", size=46, color="#333333")
txt(1377, 749, "33", size=21, color="#333333")
txt(1376, 773, "days", size=21, color="#333333")
seg(0, 785, 0, 805, xr=ex, width=1.6)
seg(0, 805, 1.17, 805, xr=ex, width=1.6)
txt(1.5, 804, "Add 1:1 Irradiated K562 cells", size=20, align="left", color="#111111", xr=ex)
lx = np.arange(14.4, 19.8, 0.2)
seg(lx, 805, lx + 0.2, 805, xr=ex, width=1.8, alpha=np.clip(1 - (lx - 15.5) / 4.3, 0, 1))

# ============================ F ============================
txt(1024, 870, "Exhaustion", size=28, color="#111111")
txt(1029, 904, "Markers per cell", size=28, color="#111111")
for i, lev in enumerate(F_LEVELS):
    bx = 1158 + i * 69.2
    box(bx, bx + 28, 853.5, 880.5, color="#222222", width=1.3, fill=F_LEVEL_COLORS[i])
    txt(bx + 47.5, 867, lev, size=26, color="#111111")
txt(1287, 905, "(PD1, LAG3, TIM3)", size=25, color="#444444")
txt(1063, 953, "Donor 1", size=25, color="#111111")
txt(1174, 953, "CD4", size=31, color="#111111")
txt(1284, 953, "Donor 2", size=25, color="#111111")
txt(1174, 1217, "CD8", size=31, color="#111111")
F_ROW_Y = [(979.5, 1076), (1092.4, 1190.3), (1239, 1335), (1352, 1448.6)]
F_COL_X = [(964.6, 1166), (1182.8, 1384.4)]
STACK_COLORS = [F_LEVEL_COLORS[3], F_LEVEL_COLORS[2], F_LEVEL_COLORS[1], F_LEVEL_COLORS[0]]
for r, (day, d1, d2) in enumerate(F_PANELS):
    yt, yb = F_ROW_Y[r]
    fy = scale_y(yt, yb, -0.5, 3.5)
    for c, data in enumerate((d1, d2)):
        x0, x1 = F_COL_X[c]
        fx = scale_x(x0, x1, 0, 100)
        vals = np.array(data, dtype=float)
        cum = np.cumsum(vals, axis=1)
        for k in range(4):
            p.hbar(y=[0, 1, 2, 3], left=list(cum[:, k] - vals[:, k]), right=list(cum[:, k]), height=0.9,
                   fill_color=STACK_COLORS[k], line_color="#1a1a1a", line_width=1.3,
                   x_range_name=fx, y_range_name=fy)
        box(x0, x1, yt, yb, color="#1a1a1a", width=1.6)
        if r == 3:
            txt(0, 1464, "0", size=24, color="#4d4d4d", align="left", xr=fx)
            txt(96, 1464, "100", size=24, color="#4d4d4d", align="right", xr=fx)
    txt(952, [0, 1, 2, 3], F_ROWS, size=27, bold=True, color=F_ROW_COLORS, align="right", yr=fy)
    txt(1409, (yt + yb) / 2, day, size=26, angle=-np.pi / 2, color="#111111")
txt(1186, 1493, "% of cells", size=26, color="#333333")
txt(1177, 1531, "Significance Across All Days (RM ANOVA)", size=28, color="#111111")
F_LAB_X = [978.5, 1096, 1214.8, 1332]
F_END_X = [983.6, 1102, 1214.4, 1334]
txt(F_LAB_X, 1570, F_ROWS, size=26, bold=True, color=F_ROW_COLORS)
for (a, b, s), ly in zip(F_SIG, [1598, 1615, 1638, 1654]):
    seg([F_END_X[a], F_END_X[a], F_END_X[b]], [ly, ly - 6, ly - 6], [F_END_X[b], F_END_X[a], F_END_X[b]], [ly, ly, ly], width=2.5)
    txt((F_END_X[a] + F_END_X[b]) / 2, ly - 1, s, size=22, base="top", color="#111111")

# ============================ G ============================
title_box(1538, 1940, 8, 46, "CD27 Expression, CD8 T cells")
G_COL_X = [(1526.5, 1734.3), (1747, 1955)]
G_ZERO = [1529.4, 1751.0]
G_PX_PER_AU = 0.05987
G_TOPS = [123.3, 417.4, 711, 1004.6, 1297.6]
G_PH = 267
G_PITCH = 59.1
G_HSCALE = 1.52
txt([1630.4, 1851], 104, ["Donor 1", "Donor 2"], size=21, color="#111111")
g_x = [scale_x(G_ZERO[c], G_ZERO[c] + 3000 * G_PX_PER_AU, 0, 3000) for c in range(2)]
for gi, grp in enumerate(G_GROUPS):
    top = G_TOPS[gi]
    bot = top + G_PH
    gy = scale_y(bot, bot - G_PITCH, 0, 1)
    for c in range(2):
        curves = (G_CURVES_DONOR1 if c == 0 else G_CURVES_DONOR2)[grp]
        pct = (G_PCT_DONOR1 if c == 0 else G_PCT_DONOR2)[gi]
        for i in range(4):
            ridge(g_x[c], gy, curves[i], 3 - i, G_HSCALE, G_FILLS[grp][i], G_LINES[grp], lw=2.6)
        seg(G_THRESHOLD, 0, G_THRESHOLD, G_PH / G_PITCH, xr=g_x[c], yr=gy, dash="7 5", width=2.2)
        box(G_COL_X[c][0], G_COL_X[c][1], top, bot, color="#111111", width=2.4)
        tcol = "#444444" if grp == "untransduced" else G_LINES[grp]
        txt(3025, 4.13, "%:", size=26, color=tcol, xr=g_x[c], yr=gy)
        txt(2945, [3.56, 2.56, 1.56, 0.56], [str(v) for v in pct], size=26, color=tcol, xr=g_x[c], yr=gy)
    txt(1513, [3, 2, 1, 0], G_DAYS, size=20, color="#4d4d4d", align="right", yr=gy)
    txt(1973.5, top + G_PH / 2, G_STRIPS[gi], size=21, angle=-np.pi / 2, color="#111111")
for c in range(2):
    seg(G_XTICKS, 1565, G_XTICKS, 1572, xr=g_x[c], width=2, color="#222222")
    txt(G_XTICKS, 1591, [str(v) for v in G_XTICKS], size=21, color="#4d4d4d", xr=g_x[c])
txt(1742, 1631, "CD27 MFI (AU)", size=28, color="#111111")
txt(1470, 843, "Days in culture", size=27, angle=np.pi / 2, color="#111111")
txt(2029, 262, "* (versus all)", size=21, angle=-np.pi / 2, color="#111111")
G_SIG_TOP = {1: 551, 2: 846, 3: 1128}
G_SIG_BOT = {3: 1119, 4: 1434}
for a, b, s, bxp in G_SIG:
    ya = G_SIG_TOP[a]
    yb = G_SIG_BOT[b]
    seg([bxp, bxp - 8, bxp - 8], [ya, ya, yb], [bxp, bxp, bxp], [yb, ya, yb], width=2.5)
    txt(bxp + 9, (ya + yb) / 2, s, size=22, angle=-np.pi / 2)

open("out.html", "w").write(file_html(p, INLINE))
